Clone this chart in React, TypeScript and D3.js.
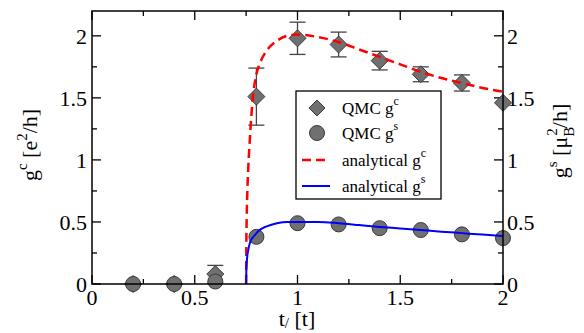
import React from "react";
import * as d3 from "d3";

const qmcX = [0.2, 0.4, 0.6, 0.8, 1.0, 1.2, 1.4, 1.6, 1.8, 2.0];
const qmcGc = [0, 0, 0.08, 1.51, 1.98, 1.93, 1.8, 1.69, 1.62, 1.46];
const qmcGcErr = [0, 0, 0.07, 0.23, 0.13, 0.1, 0.075, 0.06, 0.065, 0];
const qmcGs = [0, 0, 0.02, 0.38, 0.49, 0.48, 0.45, 0.435, 0.4, 0.37];

const anX = [0.75, 0.751, 0.753, 0.756, 0.76, 0.765, 0.77, 0.78, 0.79, 0.8, 0.82, 0.85, 0.9, 0.95, 1.0, 1.1, 1.2, 1.3, 1.4, 1.5, 1.6, 1.7, 1.8, 1.9, 2.0];
const anGc = [0, 0.3, 0.55, 0.75, 0.92, 1.08, 1.22, 1.45, 1.6, 1.69, 1.79, 1.88, 1.96, 2.0, 2.01, 1.99, 1.95, 1.89, 1.83, 1.77, 1.71, 1.66, 1.62, 1.58, 1.55];
const anGs = [0, 0.1, 0.17, 0.23, 0.27, 0.31, 0.34, 0.37, 0.39, 0.41, 0.44, 0.465, 0.49, 0.5, 0.5, 0.5, 0.49, 0.475, 0.46, 0.448, 0.435, 0.422, 0.41, 0.398, 0.387];

const xTicks = [0, 0.5, 1, 1.5, 2];
const xTickLabels = ["0", "0.5", "1", "1.5", "2"];
const yTicks = [0, 0.5, 1, 1.5, 2];
const yTickLabels = ["0", "0.5", "1", "1.5", "2"];
const minorTicks = [0.25, 0.75, 1.25, 1.75];

const W = 584, H = 333;
const L = 92, R = 503, T = 11, B = 284;
const TS = { fontFamily: "'Liberation Serif'" };

export default function App() {
  const x = d3.scaleLinear().domain([0, 2]).range([L, R]);
  const y = d3.scaleLinear().domain([0, 2.2]).range([B, T]);
  const line = d3.line<number>().x((_, i) => x(anX[i])).y((d) => y(d)).curve(d3.curveMonotoneX);
  const dS = 8.5;
  const cR = 7.5;
  const diamond = (cx: number, cy: number) =>
    `M${cx},${cy - dS}L${cx + dS},${cy}L${cx},${cy + dS}L${cx - dS},${cy}Z`;
  const gray = "#707070";
  const mStroke = "#3a3a3a";

  const legX = 296, legY = 91, legW = 145, legH = 108;
  const rows = [108, 133, 160, 186];

  return (
    <svg width={W} height={H} style={{ position: "absolute", left: 0, top: 0 }}>
      <rect x={0} y={0} width={W} height={H} fill="white" />
      {xTicks.map((t) => (
        <g key={"xt" + t}>
          <line x1={x(t)} x2={x(t)} y1={B} y2={B - 9} stroke="#000" strokeWidth={1.3} />
          <line x1={x(t)} x2={x(t)} y1={T} y2={T + 9} stroke="#000" strokeWidth={1.3} />
        </g>
      ))}
      {minorTicks.map((t) => (
        <g key={"xm" + t}>
          <line x1={x(t)} x2={x(t)} y1={B} y2={B - 5} stroke="#000" strokeWidth={1.3} />
          <line x1={x(t)} x2={x(t)} y1={T} y2={T + 5} stroke="#000" strokeWidth={1.3} />
        </g>
      ))}
      {yTicks.map((t) => (
        <g key={"yt" + t}>
          <line x1={L} x2={L + 9} y1={y(t)} y2={y(t)} stroke="#000" strokeWidth={1.3} />
          <line x1={R} x2={R - 9} y1={y(t)} y2={y(t)} stroke="#000" strokeWidth={1.3} />
        </g>
      ))}
      {minorTicks.map((t) => (
        <g key={"ym" + t}>
          <line x1={L} x2={L + 5} y1={y(t)} y2={y(t)} stroke="#000" strokeWidth={1.3} />
          <line x1={R} x2={R - 5} y1={y(t)} y2={y(t)} stroke="#000" strokeWidth={1.3} />
        </g>
      ))}
      {xTicks.map((t, i) => (
        <text key={"xl" + t} x={x(t)} y={305} fontSize={22} textAnchor="middle" style={TS}>
          {xTickLabels[i]}
        </text>
      ))}
      {yTicks.map((t, i) => (
        <text key={"yl" + t} x={L - 5} y={y(t) + 8} fontSize={22} textAnchor="end" style={TS}>
          {yTickLabels[i]}
        </text>
      ))}
      {yTicks.map((t, i) => (
        <text key={"yr" + t} x={R + 4} y={y(t) + 8} fontSize={22} textAnchor="start" style={TS}>
          {yTickLabels[i]}
        </text>
      ))}
      <text x={297} y={326} fontSize={22} textAnchor="middle" style={TS}>
        t<tspan fontSize={15} dy={2}>/</tspan>
        <tspan dy={-2}> [t]</tspan>
      </text>
      <text transform={`translate(37,145) rotate(-90)`} fontSize={22} textAnchor="middle" style={TS}>
        g<tspan fontSize={15} dy={-10}>c</tspan>
        <tspan dy={10}> [e</tspan>
        <tspan fontSize={15} dy={-10}>2</tspan>
        <tspan dy={10}>/h]</tspan>
      </text>
      <text transform={`translate(567,141) rotate(-90)`} fontSize={22} textAnchor="middle" style={TS}>
        g<tspan fontSize={15} dy={-10}>s</tspan>
        <tspan dy={10}> [μ</tspan>
        <tspan fontSize={15} dy={7}>B</tspan>
        <tspan fontSize={15} dx={-9} dy={-17}>2</tspan>
        <tspan dy={10}>/h]</tspan>
      </text>
      {qmcX.map((xv, i) =>
        qmcGcErr[i] > 0 ? (
          <g key={"e" + i} stroke="#444" strokeWidth={1.3}>
            <line x1={x(xv)} x2={x(xv)} y1={y(qmcGc[i] - qmcGcErr[i])} y2={y(qmcGc[i] + qmcGcErr[i])} />
            <line x1={x(xv) - 8} x2={x(xv) + 8} y1={y(qmcGc[i] + qmcGcErr[i])} y2={y(qmcGc[i] + qmcGcErr[i])} />
            <line x1={x(xv) - 8} x2={x(xv) + 8} y1={y(qmcGc[i] - qmcGcErr[i])} y2={y(qmcGc[i] - qmcGcErr[i])} />
          </g>
        ) : null
      )}
      {qmcX.map((xv, i) => (
        <path key={"d" + i} d={diamond(x(xv), y(qmcGc[i]))} fill={gray} stroke={mStroke} strokeWidth={1} />
      ))}
      {qmcX.map((xv, i) => (
        <circle key={"c" + i} cx={x(xv)} cy={y(qmcGs[i])} r={cR} fill={gray} stroke={mStroke} strokeWidth={1} />
      ))}
      <path d={line(anGc) || ""} fill="none" stroke="#ff0000" strokeWidth={2.5} strokeDasharray="9,5" />
      <path d={line(anGs) || ""} fill="none" stroke="#0000ff" strokeWidth={2} />
      <rect x={L} y={T} width={R - L} height={B - T} fill="none" stroke="#000" strokeWidth={1.5} />
      <rect x={legX} y={legY} width={legW} height={legH} fill="white" stroke="#000" strokeWidth={1.3} />
      <path d={`M317,${rows[0] - 8}L325,${rows[0]}L317,${rows[0] + 8}L309,${rows[0]}Z`} fill={gray} stroke={mStroke} />
      <circle cx={317} cy={rows[1]} r={7.5} fill={gray} stroke={mStroke} />
      <line x1={302} x2={330} y1={rows[2]} y2={rows[2]} stroke="#ff0000" strokeWidth={2.5} strokeDasharray="9,5" />
      <line x1={302} x2={330} y1={rows[3]} y2={rows[3]} stroke="#0000ff" strokeWidth={2} />
      {[
        ["QMC g", "c"],
        ["QMC g", "s"],
        ["analytical g", "c"],
        ["analytical g", "s"],
      ].map(([a, b], i) => (
        <text key={"lg" + i} x={342} y={rows[i] + 6} fontSize={17} style={TS}>
          {a}
          <tspan fontSize={12} dy={-9}>{b}</tspan>
        </text>
      ))}
    </svg>
  );
}
